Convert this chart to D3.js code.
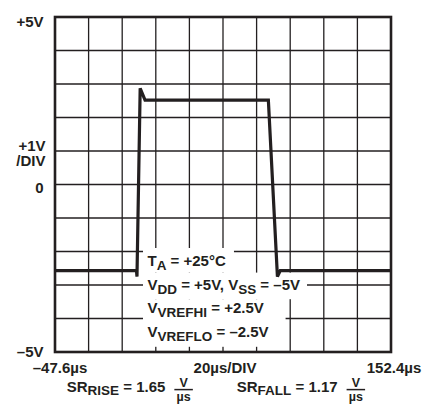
<!DOCTYPE html>
<html><head><meta charset="utf-8">
<script src="https://cdn.jsdelivr.net/npm/d3@7"></script>
<style>
body{margin:0;background:#fff}
svg{display:block}
text{font-family:"Liberation Sans",Arial,Helvetica,sans-serif;font-weight:bold;fill:#231f20;white-space:pre}
</style>
</head><body><svg id="c" width="438" height="415"></svg>
<script>
// ---- data ----
const timeUs = [-47.6, 0.9, 1.2, 3.1, 6.0, 79.4, 84.8, 86.5, 152.4];
const volts  = [-2.57, -2.57, -2.75, 2.87, 2.52, 2.52, -2.75, -2.57, -2.57];
const timeDomain = [-47.6, 152.4];
const voltDomain = [-5, 5];
const divisions = 10;
const yTickLabels = ["+5V", "+1V", "/DIV", "0", "\u20135V"];
const yTickValues = [5, 1, 1, 0, -5];
const xTickLabels = ["\u201347.6\u00b5s", "20\u00b5s/DIV", "152.4\u00b5s"];
const xTickValues = [-47.6, 52.4, 152.4];
const noteLines = [
  [["T",0],["A",1],[" = +25\u00b0C",0]],
  [["V",0],["DD",1],[" = +5V, V",0],["SS",1],[" = \u20135V",0]],
  [["V",0],["VREFHI",1],[" = +2.5V",0]],
  [["V",0],["VREFLO",1],[" = \u20132.5V",0]]
];
const slewNames = ["RISE", "FALL"];
const slewValues = ["1.65", "1.17"];

// ---- layout ----
const svg = d3.select("#c");
const L = 55, R = 391, T = 17, B = 352;
const ink = "#231f20";
const x = d3.scaleLinear().domain(timeDomain).range([L, R]);
const y = d3.scaleLinear().domain(voltDomain).range([B, T]);

const xGrid = d3.range(divisions + 1).map(i => timeDomain[0] + i * (timeDomain[1] - timeDomain[0]) / divisions);
const yGrid = d3.range(divisions + 1).map(i => voltDomain[0] + i * (voltDomain[1] - voltDomain[0]) / divisions);

const grid = svg.append("g");
grid.selectAll("line.v").data(xGrid).join("line")
  .attr("x1", d => x(d)).attr("x2", d => x(d)).attr("y1", T).attr("y2", B)
  .attr("stroke", ink).attr("stroke-width", 1.3);
grid.selectAll("line.h").data(yGrid).join("line")
  .attr("y1", d => y(d)).attr("y2", d => y(d)).attr("x1", L).attr("x2", R)
  .attr("stroke", ink).attr("stroke-width", 1.3);

const maskG = svg.append("g");
const waveG = svg.append("g");
const noteG = svg.append("g");

// waveform
const pts = timeUs.map((t, i) => [t, volts[i]]);
waveG.append("path").datum(pts)
  .attr("d", d3.line().x(d => x(d[0])).y(d => y(d[1])))
  .attr("fill", "none").attr("stroke", ink).attr("stroke-width", 3.2)
  .attr("stroke-linejoin", "miter");

// border
svg.append("rect").attr("x", L).attr("y", T).attr("width", R - L).attr("height", B - T)
  .attr("fill", "none").attr("stroke", ink).attr("stroke-width", 2.6);

// helper for text with subscripts
function richText(g, segs, x0, y0, size, subSize, subDy) {
  const t = g.append("text").attr("x", x0).attr("y", y0).attr("font-size", size);
  let cur = 0;
  segs.forEach(([s, sub]) => {
    const sp = t.append("tspan").text(s);
    const want = sub ? subDy : 0;
    sp.attr("dy", want - cur);
    if (sub) sp.attr("font-size", subSize);
    cur = want;
  });
  return t;
}

// annotation block
const noteX = 147.5, noteY0 = 266, noteStep = 23.6;
const noteTexts = noteLines.map((segs, i) => richText(noteG, segs, noteX, noteY0 + i * noteStep, 15, 13.5, 4));
const bb = noteTexts.map(t => t.node().getBBox());
function maskRect(x0, y0, x1, y1) {
  maskG.append("rect").attr("x", x0).attr("y", y0).attr("width", x1 - x0).attr("height", y1 - y0).attr("fill", "#fff");
}
const padL = 4.5;
maskRect(bb[0].x - padL, bb[0].y - 4, bb[0].x + bb[0].width + 8, bb[1].y - 3);
maskRect(bb[1].x - padL, bb[1].y - 3, bb[1].x + bb[1].width + 7, bb[2].y);
const w34 = Math.max(bb[2].width, bb[3].width);
maskRect(bb[2].x - padL, bb[2].y, bb[2].x + w34 + 17, bb[3].y + bb[3].height + 3);

// y labels
const yDy = [9.7, -0.3, 15, 8.2, 5.3];
const yRight = [43.5, 45.5, 45.5, 43.5, 43.5];
svg.append("g").selectAll("text").data(yTickLabels).join("text")
  .attr("x", (d, i) => yRight[i]).attr("y", (d, i) => y(yTickValues[i]) + yDy[i])
  .attr("text-anchor", "end").attr("font-size", 15).text(d => d);

// x labels
const xDx = [5, 2, 3];
svg.append("g").selectAll("text").data(xTickLabels).join("text")
  .attr("x", (d, i) => x(xTickValues[i]) + xDx[i]).attr("y", 373.3)
  .attr("text-anchor", "middle").attr("font-size", 15).text(d => d);

// slew-rate formulas
const srX = [66.7, 236.7];
slewNames.forEach((nm, i) => {
  const g = svg.append("g");
  const t = richText(g, [["SR",0],[nm,1],[" = " + slewValues[i],0]], srX[i], 391.7, 15, 13.5, 3.5);
  const b = t.node().getBBox();
  const fx0 = b.x + b.width + 9, fw = 18.5, fc = fx0 + fw / 2;
  g.append("line").attr("x1", fx0).attr("x2", fx0 + fw).attr("y1", 389.6).attr("y2", 389.6)
    .attr("stroke", ink).attr("stroke-width", 1.5);
  g.append("text").attr("x", fc).attr("y", 386.6).attr("text-anchor", "middle").attr("font-size", 12.5).text("V");
  g.append("text").attr("x", fc).attr("y", 400.6).attr("text-anchor", "middle").attr("font-size", 12.5).text("\u00b5s");
});
</script>
</body></html>
